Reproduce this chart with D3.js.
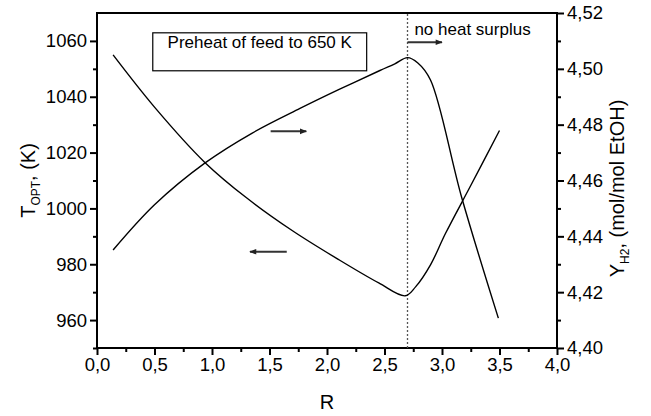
<!DOCTYPE html>
<html>
<head>
<meta charset="utf-8">
<script src="https://cdn.jsdelivr.net/npm/d3@7"></script>
<style>
  body { margin: 0; background: #fff; }
  svg { display: block; font-family: "Liberation Sans", Arial, Helvetica, sans-serif; }
</style>
</head>
<body>
<svg id="chart" width="651" height="416"></svg>
<script>
// Optimal temperature vs. recycle ratio R
const rT = [0.14, 0.5, 0.94, 1.3, 1.7, 2.1, 2.45, 2.68, 2.77, 2.90, 3.03, 3.25, 3.50];
const tOpt = [1055, 1036.3, 1016.4, 1003.8, 992.0, 981.7, 973.3, 968.7, 971.9, 979.8, 991.0, 1008.2, 1027.9];

// Hydrogen yield vs. recycle ratio R
const rY = [0.14, 0.5, 0.94, 1.35, 1.765, 2.11, 2.46, 2.59, 2.70, 2.79, 2.90, 3.17, 3.49];
const yH2 = [4.4351, 4.4513, 4.4663, 4.4770, 4.4858, 4.4927, 4.4994, 4.5018, 4.5040, 4.5021, 4.4960, 4.4541, 4.4107];

const xTicks = [0, 0.5, 1, 1.5, 2, 2.5, 3, 3.5, 4];
const leftTicks = [960, 980, 1000, 1020, 1040, 1060];
const rightTicks = [4.40, 4.42, 4.44, 4.46, 4.48, 4.50, 4.52];
const heatLimitR = 2.7;

const svg = d3.select("#chart");
const m = { left: 97, right: 557, top: 13, bottom: 348 };

const x = d3.scaleLinear().domain([0, 4]).range([m.left, m.right]);
const yL = d3.scaleLinear().domain([950, 1070]).range([m.bottom, m.top]);
const yR = d3.scaleLinear().domain([4.40, 4.52]).range([m.bottom, m.top]);

const comma = f => (v => d3.format(f)(v).replace(".", ","));

// Frame
svg.append("rect")
  .attr("x", m.left).attr("y", m.top)
  .attr("width", m.right - m.left).attr("height", m.bottom - m.top)
  .attr("fill", "none").attr("stroke", "#000").attr("stroke-width", 2);

function styleAxis(g) {
  g.select(".domain").remove();
  g.selectAll("line").attr("stroke", "#000").attr("stroke-width", 2);
  g.selectAll("text").attr("fill", "#000").style("font-size", "18.5px");
}

// Minor ticks
svg.append("g").attr("transform", `translate(0,${m.bottom})`)
  .call(d3.axisBottom(x).tickValues(d3.range(0.25, 4, 0.5)).tickSize(4).tickFormat(""))
  .call(styleAxis);
svg.append("g").attr("transform", `translate(${m.left},0)`)
  .call(d3.axisLeft(yL).tickValues(d3.range(950, 1070, 20)).tickSize(4).tickFormat(""))
  .call(styleAxis);
svg.append("g").attr("transform", `translate(${m.right},0)`)
  .call(d3.axisRight(yR).tickValues(d3.range(4.41, 4.52, 0.02)).tickSize(4).tickFormat(""))
  .call(styleAxis);

// Major ticks
svg.append("g").attr("transform", `translate(0,${m.bottom})`)
  .call(d3.axisBottom(x).tickValues(xTicks).tickSize(7).tickPadding(3).tickFormat(comma(".1f")))
  .call(styleAxis);
svg.append("g").attr("transform", `translate(${m.left},0)`)
  .call(d3.axisLeft(yL).tickValues(leftTicks).tickSize(7).tickPadding(3).tickFormat(d3.format("d")))
  .call(styleAxis);
svg.append("g").attr("transform", `translate(${m.right},0)`)
  .call(d3.axisRight(yR).tickValues(rightTicks).tickSize(7).tickPadding(3).tickFormat(comma(".2f")))
  .call(styleAxis);

// Heat-balance limit
svg.append("line")
  .attr("x1", x(heatLimitR)).attr("x2", x(heatLimitR))
  .attr("y1", m.bottom).attr("y2", m.top)
  .attr("stroke", "#555").attr("stroke-width", 1.3).attr("stroke-dasharray", "2,2");

// Curves
const lineT = d3.line().x((d, i) => x(rT[i])).y(d => yL(d)).curve(d3.curveCatmullRom.alpha(0.5));
const lineY = d3.line().x((d, i) => x(rY[i])).y(d => yR(d)).curve(d3.curveCatmullRom.alpha(0.5));
svg.append("path").attr("d", lineT(tOpt)).attr("fill", "none").attr("stroke", "#000").attr("stroke-width", 1.4);
svg.append("path").attr("d", lineY(yH2)).attr("fill", "none").attr("stroke", "#000").attr("stroke-width", 1.4);

// Arrow marker
svg.append("defs").append("marker")
  .attr("id", "head").attr("viewBox", "0 0 10 10")
  .attr("refX", 9).attr("refY", 5)
  .attr("markerUnits", "userSpaceOnUse")
  .attr("markerWidth", 10).attr("markerHeight", 7)
  .attr("orient", "auto")
  .append("path").attr("d", "M0,1 L10,5 L0,9 Z").attr("fill", "#222");

function arrow(r1, r2, yPix) {
  svg.append("line")
    .attr("x1", x(r1)).attr("x2", x(r2)).attr("y1", yPix).attr("y2", yPix)
    .attr("stroke", "#333").attr("stroke-width", 2).attr("marker-end", "url(#head)");
}
arrow(1.51, 1.82, yR(4.4776));   // points to the yield axis
arrow(1.65, 1.33, yL(984.5));    // points to the temperature axis
arrow(heatLimitR, 3.0, yR(4.5095));

// Annotation box
svg.append("rect")
  .attr("x", x(0.485)).attr("y", yR(4.5129))
  .attr("width", x(2.345) - x(0.485)).attr("height", yR(4.4993) - yR(4.5129))
  .attr("fill", "#fff").attr("stroke", "#000").attr("stroke-width", 1.2);
svg.append("text")
  .attr("x", (x(0.485) + x(2.345)) / 2).attr("y", 48)
  .attr("text-anchor", "middle").style("font-size", "17px")
  .text("Preheat of feed to 650 K");

svg.append("text")
  .attr("x", x(2.76)).attr("y", 35)
  .style("font-size", "17px")
  .text("no heat surplus");

// Axis titles
svg.append("text")
  .attr("x", (m.left + m.right) / 2).attr("y", 409)
  .attr("text-anchor", "middle").style("font-size", "20px").text("R");

const tl = svg.append("text")
  .attr("transform", `translate(35,${(m.top + m.bottom) / 2}) rotate(-90)`)
  .attr("text-anchor", "middle").style("font-size", "20px");
tl.append("tspan").text("T");
tl.append("tspan").attr("dy", 5).style("font-size", "12px").text("OPT");
tl.append("tspan").attr("dy", -5).text(", (K)");

const tr = svg.append("text")
  .attr("transform", `translate(624,${(m.top + m.bottom) / 2 + 8}) rotate(-90)`)
  .attr("text-anchor", "middle").style("font-size", "20px");
tr.append("tspan").text("Y");
tr.append("tspan").attr("dy", 5).style("font-size", "12px").text("H2");
tr.append("tspan").attr("dy", -5).text(", (mol/mol EtOH)");
</script>
</body>
</html>
